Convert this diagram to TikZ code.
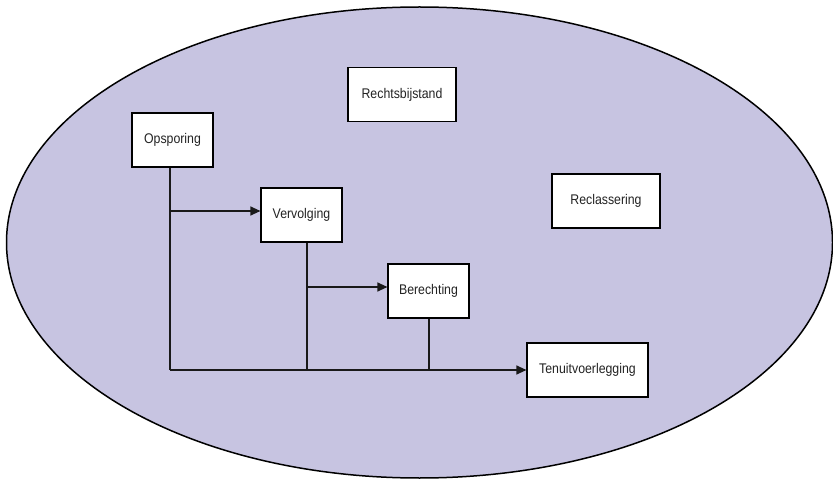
\documentclass[tikz,border=0pt]{standalone}
\usepackage{fontspec}
\setmainfont{Liberation Sans}[FakeStretch=0.88]
\usetikzlibrary{arrows.meta}
\definecolor{lav}{RGB}{199,196,225}
\definecolor{txt}{RGB}{35,35,35}
\tikzset{
  box/.style={draw=black, fill=white, line width=1.2pt, rectangle, minimum height=54pt,
    inner sep=0pt, text=txt, font=\fontsize{14}{16}\selectfont},
  conn/.style={draw=black!90, line width=1.2pt},
  arr/.style={conn, -{Triangle[length=10pt,width=9pt]}}
}
\begin{document}
\begin{tikzpicture}[x=1pt,y=-1pt]
\useasboundingbox (0,0) rectangle (833,481);
\fill[lav, draw=black, line width=1.5pt] (419.5,242.5) ellipse [x radius=413, y radius=235.5];
\node[box, minimum width=81pt] (ops) at (172.5,140) {Opsporing};
\node[box, minimum width=81pt] (ver) at (301.5,215) {Vervolging};
\node[box, minimum width=81pt] (ber) at (428.5,291) {Berechting};
\node[box, minimum width=108pt] (rec) at (402,94.5) {Rechtsbijstand};
\node[box, minimum width=108pt] (recl) at (606,201) {Reclassering};
\node[box, minimum width=121pt] (ten) at (587.5,370) {Tenuitvoerlegging};
\coordinate (j1) at (170,370);
\coordinate (a1) at (170,211);
\coordinate (j2) at (307,370);
\coordinate (a2) at (307,287);
\coordinate (j3) at (429,370);
\draw[conn] (ops.south -| j1) -- (j1);
\draw[arr] (j1) -- (ten.west);
\draw[arr] (a1) -- (a1 -| ver.west);
\draw[conn] (ver.south -| j2) -- (j2);
\draw[arr] (a2) -- (a2 -| ber.west);
\draw[conn] (ber.south -| j3) -- (j3);
\end{tikzpicture}
\end{document}
